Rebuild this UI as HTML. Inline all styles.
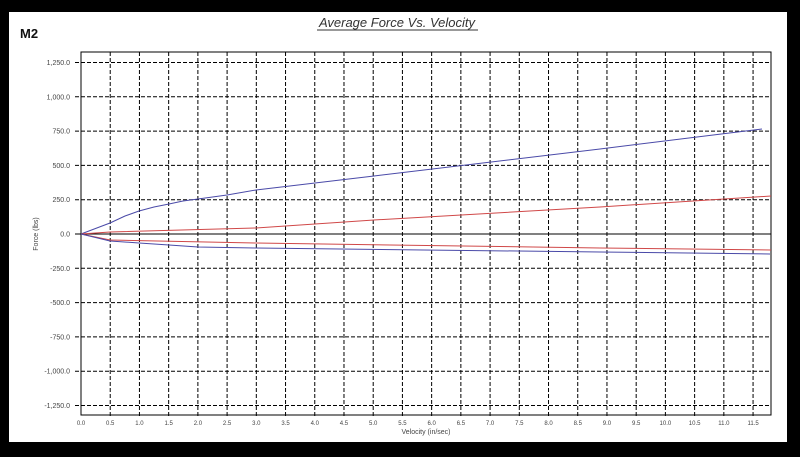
<!DOCTYPE html>
<html><head><meta charset="utf-8"><style>
html,body{margin:0;padding:0;background:#000;}
svg{display:block;}
text{font-family:"Liberation Sans",sans-serif;}
</style></head><body>
<svg width="800" height="457" viewBox="0 0 800 457" xmlns="http://www.w3.org/2000/svg">
<rect x="0" y="0" width="800" height="457" fill="#000"/>
<rect x="9" y="12" width="778" height="430" fill="#fff"/>
<text x="20" y="38" font-size="13" font-weight="bold" fill="#111">M2</text>
<text x="397" y="27" font-size="13" font-style="italic" fill="#333" text-anchor="middle">Average Force Vs. Velocity</text>
<line x1="317" y1="30" x2="478" y2="30" stroke="#333" stroke-width="1"/>
<g id="grid" stroke="#000" stroke-width="1" stroke-dasharray="4,2" fill="none">
</g>
<rect x="81" y="52" width="690" height="363" fill="none" stroke="#000" stroke-width="1"/>
<line x1="81" y1="234" x2="771" y2="234" stroke="#000" stroke-width="1"/>
<g id="lbl" font-size="7" fill="#444"></g>
<text x="0" y="0" font-size="7" fill="#444" transform="translate(38,234) rotate(-90)" text-anchor="middle">Force (lbs)</text>
<text x="426" y="434" font-size="7" fill="#444" text-anchor="middle">Velocity (in/sec)</text>
<polyline fill="none" stroke="#4a4aa8" stroke-width="1" points="81,234 110,223 125,216 139,211 154,207 169,204 183,201 198,199 227,195 256,190 374,176 600,149 762,129"/>
<polyline fill="none" stroke="#d04848" stroke-width="1" points="81,234 110,232 256,228 374,220 600,207 771,196"/>
<polyline fill="none" stroke="#d04848" stroke-width="1" points="81,234 110,240 256,243 600,248 771,250"/>
<polyline fill="none" stroke="#4a4aa8" stroke-width="1" points="81,234 110,241 139,243 169,245 198,247 256,248 600,252 770,254"/>
</svg>
<script>
var ns="http://www.w3.org/2000/svg",g=document.getElementById("grid"),l=document.getElementById("lbl");
function fmt(v){var s=Math.abs(v).toFixed(1).replace(/\B(?=(\d{3})+(?!\d))/g,",");return (v<0?"-":"")+s;}
for(var i=-5;i<=5;i++){var y=234-i*34.3;
 if(i!=0){var ln=document.createElementNS(ns,"line");ln.setAttribute("x1",75);ln.setAttribute("x2",771);ln.setAttribute("y1",y);ln.setAttribute("y2",y);g.appendChild(ln);}
 else{var t0=document.createElementNS(ns,"line");t0.setAttribute("x1",75);t0.setAttribute("x2",81);t0.setAttribute("y1",y);t0.setAttribute("y2",y);t0.setAttribute("stroke-dasharray","none");g.appendChild(t0);}
 var t=document.createElementNS(ns,"text");t.setAttribute("x",70);t.setAttribute("y",y+2.5);t.setAttribute("text-anchor","end");t.textContent=fmt(i*250);l.appendChild(t);}
for(var j=0;j<=23;j++){var x=81+j*29.22;
 if(j>0){var lv=document.createElementNS(ns,"line");lv.setAttribute("x1",x);lv.setAttribute("x2",x);lv.setAttribute("y1",52);lv.setAttribute("y2",418);g.appendChild(lv);}
 var tx=document.createElementNS(ns,"text");tx.setAttribute("x",x);tx.setAttribute("y",425);tx.setAttribute("text-anchor","middle");tx.setAttribute("font-size","6");tx.textContent=(j*0.5).toFixed(1);l.appendChild(tx);}
</script>
</body></html>
